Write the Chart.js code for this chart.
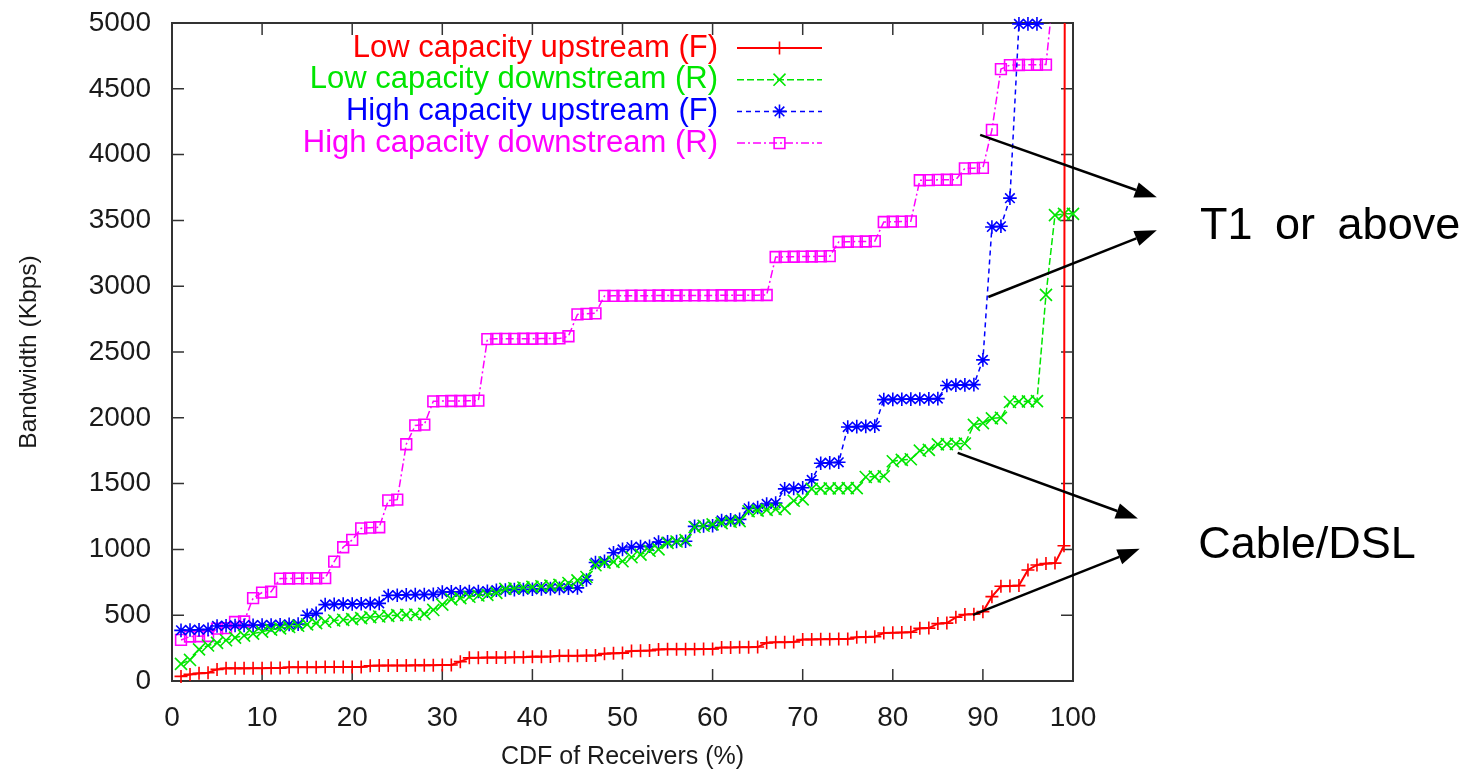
<!DOCTYPE html>
<html>
<head>
<meta charset="utf-8">
<title>Receiver bandwidth CDF</title>
<script src="https://cdn.jsdelivr.net/npm/chart.js@4/dist/chart.umd.min.js"></script>
<style>
  html, body { margin: 0; padding: 0; background: #ffffff; }
  canvas { display: block; }
</style>
</head>
<body>
<canvas id="cdf" width="1469" height="776"></canvas>
<script>
// Percentile of receivers (x axis)
const receiverPct = [
  1, 2, 3, 4, 5, 6, 7, 8, 9, 10,
  11, 12, 13, 14, 15, 16, 17, 18, 19, 20,
  21, 22, 23, 24, 25, 26, 27, 28, 29, 30,
  31, 32, 33, 34, 35, 36, 37, 38, 39, 40,
  41, 42, 43, 44, 45, 46, 47, 48, 49, 50,
  51, 52, 53, 54, 55, 56, 57, 58, 59, 60,
  61, 62, 63, 64, 65, 66, 67, 68, 69, 70,
  71, 72, 73, 74, 75, 76, 77, 78, 79, 80,
  81, 82, 83, 84, 85, 86, 87, 88, 89, 90,
  91, 92, 93, 94, 95, 96, 97, 98, 99, 100
];

// Bandwidth in Kbps; null = above the plotted range
const lowUpstream = [
  35, 50, 58, 63, 88, 96, 96, 96, 97, 97,
  98, 98, 104, 105, 105, 105, 106, 106, 106, 107,
  107, 116, 117, 118, 118, 118, 119, 119, 120, 121,
  122, 147, 176, 177, 178, 178, 179, 180, 180, 185,
  185, 186, 191, 192, 192, 193, 194, 208, 210, 212,
  228, 230, 231, 240, 241, 241, 242, 242, 243, 244,
  254, 255, 256, 257, 258, 290, 294, 295, 296, 315,
  316, 317, 318, 319, 320, 333, 335, 337, 365, 367,
  368, 370, 400, 402, 436, 440, 484, 505, 508, 527,
  641, 720, 722, 725, 844, 882, 892, 896, 1028, 50000
];

const lowDownstream = [
  130, 160, 240, 270, 290, 310, 330, 345, 360, 375,
  390, 400, 410, 420, 430, 440, 450, 460, 465, 470,
  478, 485, 490, 495, 500, 502, 505, 510, 540, 580,
  620, 630, 640, 650, 655, 670, 700, 705, 710, 715,
  720, 725, 730, 745, 765, 790, 880, 900, 905, 910,
  940, 960, 990, 1000, 1050, 1060, 1070, 1170, 1180, 1190,
  1200, 1210, 1215, 1290, 1295, 1300, 1305, 1310, 1370, 1380,
  1460, 1462, 1464, 1464, 1466, 1466, 1550, 1553, 1556, 1670,
  1680, 1685, 1750, 1756, 1798, 1800, 1802, 1805, 1946, 1960,
  1996, 2000, 2120, 2123, 2125, 2127, 2934, 3540, 3550, 3550
];

const highUpstream = [
  385, 388, 390, 392, 418, 420, 422, 423, 424, 425,
  426, 428, 430, 432, 500, 514, 580, 582, 584, 585,
  587, 588, 590, 650, 652, 655, 656, 657, 658, 676,
  677, 678, 679, 680, 682, 690, 692, 694, 695, 697,
  700, 702, 704, 706, 708, 768, 900, 910, 975, 1000,
  1018, 1021, 1024, 1055, 1058, 1060, 1062, 1175, 1178, 1180,
  1220, 1224, 1228, 1312, 1318, 1345, 1352, 1460, 1464, 1468,
  1528, 1655, 1659, 1662, 1930, 1933, 1935, 1937, 2138, 2140,
  2141, 2142, 2143, 2144, 2146, 2245, 2248, 2250, 2252, 2440,
  3450, 3455, 3669, 4993, 4993, 4993, null, null, null, null
];

const highDownstream = [
  312, 338, 340, 342, 398, 402, 448, 452, 630, 672,
  678, 778, 779, 780, 780, 781, 782, 907, 1016, 1072,
  1160, 1165, 1168, 1372, 1378, 1799, 1942, 1948, 2125, 2127,
  2128, 2128, 2129, 2130, 2598, 2600, 2600, 2600, 2601, 2601,
  2602, 2602, 2603, 2620, 2786, 2790, 2794, 2926, 2927, 2927,
  2928, 2928, 2928, 2929, 2929, 2929, 2930, 2930, 2930, 2930,
  2931, 2931, 2931, 2932, 2932, 2933, 3222, 3223, 3224, 3225,
  3226, 3227, 3228, 3336, 3338, 3339, 3340, 3342, 3488, 3490,
  3491, 3493, 3805, 3806, 3808, 3809, 3810, 3895, 3897, 3899,
  4188, 4650, 4680, 4681, 4682, 4683, 4684, 5350, null, null
];

const seriesLabels = [
  'Low capacity upstream (F)',
  'Low capacity downstream (R)',
  'High capacity upstream (F)',
  'High capacity downstream (R)'
];

const xTickStep = 10;
const yTickStep = 500;

// Callout arrows, in data units (percent, Kbps)
const callouts = [
  { text: 'T1 or above', at: [114.1, 3450],
    arrows: [[[89.7, 4150], [109.3, 3675]], [[90.6, 2918], [109.3, 3425]]] },
  { text: 'Cable/DSL', at: [113.9, 1026],
    arrows: [[[87.2, 1733], [107.2, 1235]], [[88.9, 502], [107.4, 1005]]] }
];

const FONT = '"Liberation Sans", Arial, Helvetica, sans-serif';
Chart.defaults.font.family = FONT;

function toPoints(values) {
  return receiverPct.map((p, k) => ({ x: p, y: values[k] }));
}

const styles = [
  { color: '#ff0000', width: 2, dash: [], point: 'cross', radius: 6.5,
    clip: { left: 8, top: 0, right: 8, bottom: 8 } },
  { color: '#00e600', width: 1.5, dash: [7, 3], point: 'crossRot', radius: 8.5, clip: false },
  { color: '#0000ff', width: 1.5, dash: [5, 4], point: 'star', radius: 6.8, clip: false },
  { color: '#ff00ff', width: 1.5, dash: [8, 3, 2, 3], point: 'rect', radius: 7.6,
    clip: { left: 8, top: 0, right: 8, bottom: 8 } }
];

const seriesValues = [lowUpstream, lowDownstream, highUpstream, highDownstream];

const datasets = seriesValues.map((vals, i) => ({
  label: seriesLabels[i],
  data: toPoints(vals),
  borderColor: styles[i].color,
  backgroundColor: 'rgba(0,0,0,0)',
  borderWidth: styles[i].width,
  borderDash: styles[i].dash,
  pointStyle: styles[i].point,
  pointRadius: styles[i].radius,
  pointHoverRadius: styles[i].radius,
  pointBorderWidth: 1.6,
  pointBorderColor: styles[i].color,
  pointBackgroundColor: 'rgba(0,0,0,0)',
  tension: 0,
  spanGaps: false,
  clip: styles[i].clip
}));

// Gnuplot-style frame: full border with inward ticks on all four sides
const TICK = 12;
const framePlugin = {
  id: 'frame',
  beforeDatasetsDraw(chart) {
    const { ctx, chartArea: a, scales: { x, y } } = chart;
    ctx.save();
    ctx.strokeStyle = '#333333';
    ctx.lineWidth = 1.5;
    ctx.beginPath();
    x.ticks.forEach(t => {
      const px = x.getPixelForValue(t.value);
      ctx.moveTo(px, a.bottom); ctx.lineTo(px, a.bottom - TICK);
      ctx.moveTo(px, a.top); ctx.lineTo(px, a.top + TICK);
    });
    y.ticks.forEach(t => {
      const py = y.getPixelForValue(t.value);
      ctx.moveTo(a.left, py); ctx.lineTo(a.left + TICK, py);
      ctx.moveTo(a.right, py); ctx.lineTo(a.right - TICK, py);
    });
    ctx.stroke();
    ctx.lineWidth = 2;
    ctx.strokeRect(a.left, a.top, a.right - a.left, a.bottom - a.top);
    ctx.restore();
  }
};

function marker(ctx, style, radius, x, y) {
  const h = Chart.helpers;
  if (h && h.drawPoint) {
    h.drawPoint(ctx, { pointStyle: style, rotation: 0, radius: radius, borderWidth: 1.6 }, x, y);
  }
}

// Key in the upper part of the plot: right-aligned label, then line sample with marker
const KEY = { textRight: 546, lineStart: 565, lineEnd: 650, firstRow: 25, rowGap: 31.7, size: 31 };
const keyPlugin = {
  id: 'key',
  afterDraw(chart) {
    const { ctx, chartArea: a } = chart;
    ctx.save();
    chart.data.datasets.forEach((ds, i) => {
      const yRow = a.top + KEY.firstRow + i * KEY.rowGap;
      ctx.font = KEY.size + 'px ' + FONT;
      ctx.textAlign = 'right';
      ctx.textBaseline = 'middle';
      ctx.fillStyle = ds.borderColor;
      ctx.fillText(ds.label, a.left + KEY.textRight, yRow);
      ctx.strokeStyle = ds.borderColor;
      ctx.lineWidth = ds.borderWidth;
      ctx.setLineDash(ds.borderDash);
      ctx.beginPath();
      ctx.moveTo(a.left + KEY.lineStart, yRow);
      ctx.lineTo(a.left + KEY.lineEnd, yRow);
      ctx.stroke();
      ctx.setLineDash([]);
      ctx.lineWidth = 1.6;
      ctx.fillStyle = 'rgba(0,0,0,0)';
      marker(ctx, ds.pointStyle, ds.pointRadius, a.left + (KEY.lineStart + KEY.lineEnd) / 2, yRow);
    });
    ctx.restore();
  }
};

// Arrows and labels pointing at groups of curves
const calloutPlugin = {
  id: 'callouts',
  afterDraw(chart) {
    const { ctx, scales: { x, y } } = chart;
    ctx.save();
    ctx.strokeStyle = '#000000';
    ctx.fillStyle = '#000000';
    ctx.lineWidth = 2.5;
    callouts.forEach(c => {
      c.arrows.forEach(([from, to]) => {
        const x0 = x.getPixelForValue(from[0]), y0 = y.getPixelForValue(from[1]);
        const x1 = x.getPixelForValue(to[0]), y1 = y.getPixelForValue(to[1]);
        const ang = Math.atan2(y1 - y0, x1 - x0);
        const len = 22, half = 8;
        const bx = x1 - len * Math.cos(ang), by = y1 - len * Math.sin(ang);
        ctx.beginPath();
        ctx.moveTo(x0, y0);
        ctx.lineTo(bx, by);
        ctx.stroke();
        ctx.beginPath();
        ctx.moveTo(x1, y1);
        ctx.lineTo(bx + half * Math.sin(ang), by - half * Math.cos(ang));
        ctx.lineTo(bx - half * Math.sin(ang), by + half * Math.cos(ang));
        ctx.closePath();
        ctx.fill();
      });
      ctx.font = '45px ' + FONT;
      ctx.textAlign = 'left';
      ctx.textBaseline = 'middle';
      if ('wordSpacing' in ctx) ctx.wordSpacing = '10px';
      ctx.fillText(c.text, x.getPixelForValue(c.at[0]), y.getPixelForValue(c.at[1]));
    });
    ctx.restore();
  }
};

new Chart(document.getElementById('cdf'), {
  type: 'line',
  data: { datasets },
  options: {
    responsive: false,
    devicePixelRatio: 1,
    animation: false,
    events: [],
    layout: { padding: { top: 23, right: 396, bottom: 0, left: 0 } },
    plugins: {
      legend: { display: false },
      tooltip: { enabled: false }
    },
    scales: {
      x: {
        type: 'linear',
        min: 0,
        max: 100,
        grid: { display: false, drawTicks: false },
        border: { display: false },
        ticks: { stepSize: xTickStep, color: '#1a1a1a', font: { size: 28 }, padding: 20, maxRotation: 0,
                 callback: v => String(v) },
        title: { display: true, text: 'CDF of Receivers (%)', color: '#1a1a1a',
                 font: { size: 25 }, padding: { top: 0, bottom: 4 } },
        afterFit(scale) { scale.height = 95; scale.paddingLeft = 0; scale.paddingRight = 0; }
      },
      y: {
        type: 'linear',
        min: 0,
        max: 5000,
        grid: { display: false, drawTicks: false },
        border: { display: false },
        ticks: { stepSize: yTickStep, color: '#1a1a1a', font: { size: 28 }, padding: 21,
                 callback: v => String(v) },
        title: { display: true, text: 'Bandwidth (Kbps)', color: '#1a1a1a',
                 font: { size: 24.5 }, padding: { top: 15, bottom: 0 } },
        afterFit(scale) { scale.width = 172; scale.paddingTop = 0; scale.paddingBottom = 0; }
      }
    }
  },
  plugins: [framePlugin, keyPlugin, calloutPlugin]
});
</script>
</body>
</html>
